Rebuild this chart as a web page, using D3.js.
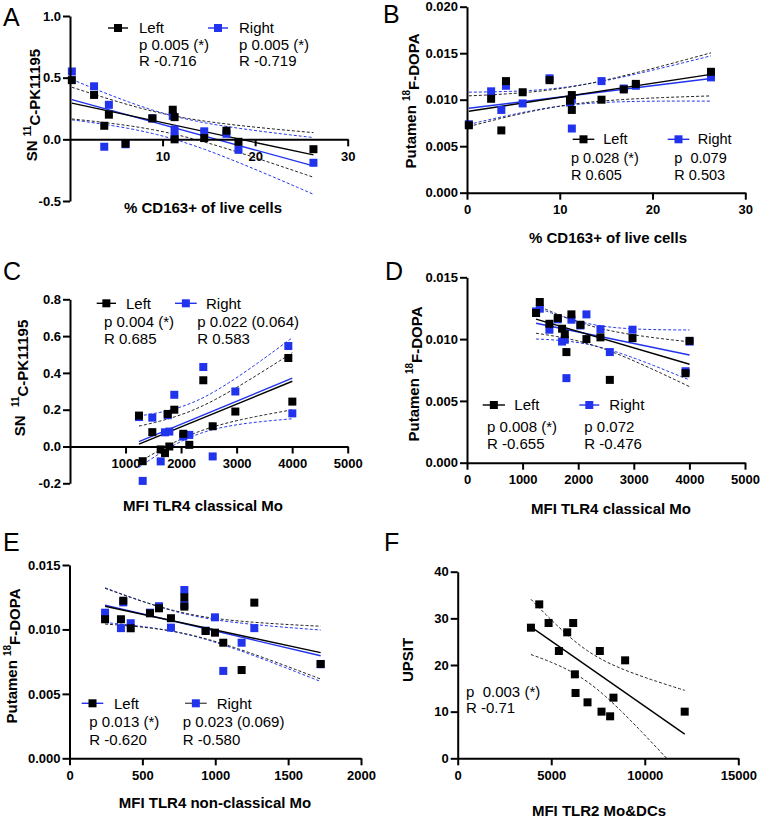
<!DOCTYPE html>
<html><head><meta charset="utf-8">
<script src="https://cdn.jsdelivr.net/npm/d3@7"></script>
<style>body{margin:0;background:#fff} text{font-family:"Liberation Sans",Arial,sans-serif}</style>
</head><body><svg id="c" width="762" height="819"></svg>
<script>
// ---------- DATA ----------
// A/B: % CD163+ of live cells
const cd163 = [0.2, 2.6, 3.7, 4.2, 6.0, 8.9, 11.1, 11.3, 11.3, 14.5, 16.9, 18.2, 26.3];
const A_left  = [0.48, 0.36, 0.11, 0.20, -0.035, 0.17, 0.24, 0.18, 0.0, 0.01, 0.07, -0.02, -0.08];
const A_right = [0.55, 0.43, -0.06, 0.28, -0.04, 0.17, 0.19, 0.08, 0.02, 0.065, 0.045, -0.085, -0.19];
const B_left  = [0.00725, 0.0101, 0.0067, 0.0120, 0.0108, 0.0121, 0.0099, 0.0105, 0.0089, 0.0100, 0.0111, 0.0117, 0.0130];
const B_right = [0.00736, 0.0109, 0.0089, 0.0115, 0.0096, 0.0123, 0.0097, 0.0069, 0.0100, 0.0120, 0.0112, 0.0115, 0.0124];
// C/D: MFI TLR4 classical Mo
const tlr4c = [1242, 1309, 1482, 1633, 1710, 1759, 1788, 1878, 2040, 2148, 2400, 2569, 2977, 3931, 4003];
const C_left  = [0.168, -0.080, 0.078, -0.016, -0.036, 0.177, 0.000, 0.200, 0.069, 0.009, 0.360, 0.110, 0.190, 0.481, 0.244];
const C_right = [0.160, -0.187, 0.157, -0.081, 0.077, 0.170, 0.081, 0.281, 0.054, 0.063, 0.432, -0.054, 0.299, 0.546, 0.180];
const D_left  = [0.01211, 0.0130, 0.01124, 0.0117, 0.01084, 0.0104, 0.00895, 0.0120, 0.01116, 0.0100, 0.01014, 0.0067, 0.01008, 0.00724, 0.00986];
const D_right = [0.01224, 0.01246, 0.01076, 0.0116, 0.0098, 0.00995, 0.00684, 0.01157, 0.0111, 0.0120, 0.0108, 0.00895, 0.01076, 0.0074, 0.0098];
// E: MFI TLR4 non-classical Mo
const tlr4nc = [244, 353, 369, 420, 552, 614, 696, 788, 788, 934, 998, 1055, 1181, 1268, 1723];
const E_left  = [0.01079, 0.01079, 0.01223, 0.01009, 0.01125, 0.01164, 0.01087, 0.01249, 0.01177, 0.00988, 0.00975, 0.00897, 0.00685, 0.01208, 0.00732];
const E_right = [0.0113, 0.0101, 0.0121, 0.01048, 0.0113, 0.0118, 0.01014, 0.01306, 0.0119, 0.0099, 0.01094, 0.00678, 0.00897, 0.0101, 0.0073];
// F: MFI TLR2 Mo&DCs vs UPSIT
const tlr2 = [3915, 4359, 4858, 5409, 5854, 6174, 6263, 6299, 6940, 7598, 7687, 8149, 8327, 8950, 12135];
const upsit = [28, 33, 29, 23, 27, 29, 18, 14, 12, 23, 10, 9, 13, 21, 10];

// tick values / labels
const A_xt = [10, 20, 30], A_xtl = ["10", "20", "30"];
const A_yt = [-0.5, 0, 0.5, 1.0], A_ytl = ["-0.5", "0.0", "0.5", "1.0"];
const B_xt = [0, 10, 20, 30], B_xtl = ["0", "10", "20", "30"];
const B_yt = [0, 0.005, 0.010, 0.015, 0.020], B_ytl = ["0.000", "0.005", "0.010", "0.015", "0.020"];
const C_xt = [1000, 2000, 3000, 4000, 5000], C_xtl = ["1000", "2000", "3000", "4000", "5000"];
const C_yt = [-0.2, 0, 0.2, 0.4, 0.6, 0.8], C_ytl = ["-0.2", "0.0", "0.2", "0.4", "0.6", "0.8"];
const D_xt = [0, 1000, 2000, 3000, 4000, 5000], D_xtl = ["0", "1000", "2000", "3000", "4000", "5000"];
const D_yt = [0, 0.005, 0.010, 0.015], D_ytl = ["0.000", "0.005", "0.010", "0.015"];
const E_xt = [0, 500, 1000, 1500, 2000], E_xtl = ["0", "500", "1000", "1500", "2000"];
const E_yt = [0, 0.005, 0.010, 0.015], E_ytl = ["0.000", "0.005", "0.010", "0.015"];
const F_xt = [0, 5000, 10000, 15000], F_xtl = ["0", "5000", "10000", "15000"];
const F_yt = [0, 10, 20, 30, 40], F_ytl = ["0", "10", "20", "30", "40"];

// ---------- DRAW ----------
const FONT = '"Liberation Sans", Arial, sans-serif';
const BLUE = '#2233ee';
const BLACK = '#000';
const tcrit = {11: 2.201, 12: 2.179, 13: 2.160};
const svg = d3.select('#c');
svg.append('rect').attr('width', 762).attr('height', 819).attr('fill', '#fff');

function linfit(xs, ys) {
  const n = xs.length, mx = d3.mean(xs), my = d3.mean(ys);
  let sxx = 0, sxy = 0;
  xs.forEach((x, i) => { sxx += (x - mx) ** 2; sxy += (x - mx) * (ys[i] - my); });
  const b = sxy / sxx, a = my - b * mx;
  const sse = d3.sum(xs, (x, i) => (ys[i] - a - b * x) ** 2);
  return {n, mx, sxx, a, b, s: Math.sqrt(sse / (n - 2)), t: tcrit[n - 2] || 2.16, lo: d3.min(xs), hi: d3.max(xs)};
}

function txt(g, x, y, t, opts = {}) {
  return g.append('text').attr('x', x).attr('y', y).attr('dy', '0.35em')
    .attr('font-family', FONT).attr('font-size', opts.size || 15)
    .attr('font-weight', opts.weight || 'normal')
    .attr('text-anchor', opts.anchor || 'start')
    .style('white-space', 'pre').attr('fill', '#000').text(t);
}

function panel(p) {
  const g = svg.append('g');
  const x = d3.scaleLinear().domain(p.xd).range(p.xr);
  const y = d3.scaleLinear().domain(p.yd).range(p.yr);
  const cid = 'clip' + p.id;
  g.append('clipPath').attr('id', cid).append('rect')
    .attr('x', p.xr[0]).attr('y', p.yr[1]).attr('width', p.xr[1] - p.xr[0]).attr('height', p.yr[0] - p.yr[1]);
  const lg = g.append('g').attr('clip-path', `url(#${cid})`);
  const line = d3.line().x(d => x(d[0])).y(d => y(d[1]));
  p.series.forEach(s => {
    const f = linfit(s.x, s.y);
    const xsS = d3.range(61).map(i => f.lo + (f.hi - f.lo) * i / 60);
    const ci = v => f.t * f.s * Math.sqrt(1 / f.n + (v - f.mx) ** 2 / f.sxx);
    [1, -1].forEach(sg => {
      lg.append('path').attr('d', line(xsS.map(v => [v, f.a + f.b * v + sg * ci(v)])))
        .attr('fill', 'none').attr('stroke', s.band).attr('stroke-width', 1).attr('stroke-dasharray', '3,2');
    });
    lg.append('path').attr('d', line([[f.lo, f.a + f.b * f.lo], [f.hi, f.a + f.b * f.hi]]))
      .attr('fill', 'none').attr('stroke', s.color).attr('stroke-width', 1.4);
  });
  p.series.forEach(s => {
    g.append('g').selectAll('rect').data(s.x.map((v, i) => [v, s.y[i]])).join('rect')
      .attr('x', d => x(d[0]) - 4).attr('y', d => y(d[1]) - 4)
      .attr('width', 8).attr('height', 8).attr('fill', s.color);
  });
  // axes
  const ya = d3.axisLeft(y).tickValues(p.yt).tickFormat((d, i) => p.ytl[i]).tickSize(7).tickPadding(2).tickSizeOuter(0);
  const yg = g.append('g').attr('transform', `translate(${p.xr[0]},0)`).call(ya);
  const xa = d3.axisBottom(x).tickValues(p.xt).tickFormat((d, i) => p.xtl[i]).tickSize(7).tickPadding(5).tickSizeOuter(0);
  const xg = g.append('g').attr('transform', `translate(0,${y(p.xAt)})`).call(xa);
  [yg, xg].forEach(a => {
    a.attr('font-family', FONT).attr('font-size', 13).attr('font-weight', 'bold');
    a.select('.domain').attr('stroke', '#000').attr('stroke-width', 2);
    a.selectAll('.tick line').attr('stroke', '#000').attr('stroke-width', 2);
    a.selectAll('.tick text').attr('fill', '#000');
  });
  // legend
  (p.legend || []).forEach(l => {
    g.append('line').attr('x1', l.x1).attr('x2', l.x2).attr('y1', l.y).attr('y2', l.y)
      .attr('stroke', l.lc).attr('stroke-width', 1.4);
    g.append('rect').attr('x', (l.x1 + l.x2) / 2 - 4).attr('y', l.y - 4).attr('width', 8).attr('height', 8).attr('fill', l.mc);
    txt(g, l.lx, l.y, l.label, {size: p.fs || 15});
  });
  (p.texts || []).forEach(t => txt(g, t.x, t.y, t.t, {size: p.fs || 15}));
  // titles
  txt(g, p.xTitle[0], p.xTitle[1], p.xTitle[2], {size: 15, weight: 'bold', anchor: 'middle'});
  const yt = g.append('text').attr('transform', `translate(${p.yTitle[0]},${p.yTitle[1]}) rotate(-90)`)
    .attr('dy', '0.35em').attr('text-anchor', 'middle').attr('font-family', FONT)
    .attr('font-size', 15).attr('font-weight', 'bold').style('white-space', 'pre');
  yt.append('tspan').text(p.yTitle[2]);
  if (p.yTitle[3]) {
    yt.append('tspan').attr('font-size', 10).attr('dy', '-0.6em').text(p.yTitle[3]);
    yt.append('tspan').attr('dy', '0.6em').text(p.yTitle[4]);
  }
  txt(g, p.label[0], p.label[1], p.label[2], {size: 25});
}

panel({id: 'A', xd: [0, 30], xr: [70, 347.7], yd: [-0.5, 1.0], yr: [201, 16], xAt: 0,
  xt: A_xt, xtl: A_xtl, yt: A_yt, ytl: A_ytl,
  series: [{x: cd163, y: A_right, color: BLUE, band: BLUE}, {x: cd163, y: A_left, color: BLACK, band: '#222'}],
  legend: [{x1: 108, x2: 128, y: 28, lc: BLACK, mc: BLACK, label: 'Left', lx: 139},
           {x1: 208, x2: 228, y: 28, lc: BLUE, mc: BLUE, label: 'Right', lx: 239}],
  texts: [{x: 139, y: 44.5, t: 'p 0.005 (*)'}, {x: 139, y: 61, t: 'R -0.716'},
          {x: 239, y: 44.5, t: 'p 0.005 (*)'}, {x: 239, y: 61, t: 'R -0.719'}],
  xTitle: [203, 207.5, '% CD163+ of live cells'], yTitle: [31.5, 105, 'SN ', '11', 'C-PK11195'],
  label: [3, 17, 'A']});

panel({id: 'B', xd: [0, 30], xr: [467, 745.3], yd: [0, 0.02], yr: [192.7, 6.7], xAt: 0, fs: 14.5,
  xt: B_xt, xtl: B_xtl, yt: B_yt, ytl: B_ytl,
  series: [{x: cd163, y: B_right, color: BLUE, band: BLUE}, {x: cd163, y: B_left, color: BLACK, band: '#222'}],
  legend: [{x1: 572.7, x2: 594.3, y: 139.3, lc: BLACK, mc: BLACK, label: 'Left', lx: 603.3},
           {x1: 667.7, x2: 689.3, y: 139.3, lc: BLUE, mc: BLUE, label: 'Right', lx: 697.7}],
  texts: [{x: 571, y: 158.3, t: 'p 0.028 (*)'}, {x: 571, y: 175, t: 'R 0.605'},
          {x: 674.3, y: 158.3, t: 'p  0.079'}, {x: 674.3, y: 175, t: 'R 0.503'}],
  xTitle: [608, 238, '% CD163+ of live cells'], yTitle: [411, 101, 'Putamen ', '18', 'F-DOPA'],
  label: [383, 14, 'B']});

panel({id: 'C', xd: [0, 5000], xr: [70, 347.7], yd: [-0.2, 0.8], yr: [483.3, 299.3], xAt: 0,
  xt: C_xt, xtl: C_xtl, yt: C_yt, ytl: C_ytl,
  series: [{x: tlr4c, y: C_right, color: BLUE, band: BLUE}, {x: tlr4c, y: C_left, color: BLACK, band: '#222'}],
  legend: [{x1: 96.7, x2: 116, y: 303.3, lc: BLACK, mc: BLACK, label: 'Left', lx: 126},
           {x1: 175, x2: 196.7, y: 303.3, lc: BLUE, mc: BLUE, label: 'Right', lx: 206}],
  texts: [{x: 104, y: 321.7, t: 'p 0.004 (*)'}, {x: 104, y: 338.3, t: 'R 0.685'},
          {x: 197.3, y: 321.7, t: 'p 0.022 (0.064)'}, {x: 197.3, y: 338.3, t: 'R 0.583'}],
  xTitle: [203, 506, 'MFI TLR4 classical Mo'], yTitle: [20, 378, 'SN  ', '11', 'C-PK11195'],
  label: [3, 271, 'C']});

panel({id: 'D', xd: [0, 5000], xr: [467, 745], yd: [0, 0.015], yr: [462.7, 277.3], xAt: 0,
  xt: D_xt, xtl: D_xtl, yt: D_yt, ytl: D_ytl,
  series: [{x: tlr4c, y: D_right, color: BLUE, band: BLUE}, {x: tlr4c, y: D_left, color: BLACK, band: '#222'}],
  legend: [{x1: 482.7, x2: 505, y: 405, lc: BLACK, mc: BLACK, label: 'Left', lx: 514.3},
           {x1: 579.3, x2: 599.3, y: 405, lc: BLUE, mc: BLUE, label: 'Right', lx: 609.3}],
  texts: [{x: 487, y: 426.7, t: 'p 0.008 (*)'}, {x: 487, y: 443.3, t: 'R -0.655'},
          {x: 584.3, y: 426.7, t: 'p 0.072'}, {x: 584.3, y: 443.3, t: 'R -0.476'}],
  xTitle: [611, 509, 'MFI TLR4 classical Mo'], yTitle: [414, 374, 'Putamen ', '18', 'F-DOPA'],
  label: [385, 271, 'D']});

panel({id: 'E', xd: [0, 2000], xr: [69.5, 361], yd: [0, 0.015], yr: [758.3, 565], xAt: 0,
  xt: E_xt, xtl: E_xtl, yt: E_yt, ytl: E_ytl,
  series: [{x: tlr4nc, y: E_right, color: BLUE, band: BLUE}, {x: tlr4nc, y: E_left, color: BLACK, band: '#222'}],
  legend: [{x1: 81.7, x2: 103.3, y: 703.3, lc: BLUE, mc: BLACK, label: 'Left', lx: 114},
           {x1: 185, x2: 206.7, y: 703.3, lc: '#555', mc: BLUE, label: 'Right', lx: 216.7}],
  texts: [{x: 89.3, y: 721.7, t: 'p 0.013 (*)'}, {x: 89.3, y: 739.3, t: 'R -0.620'},
          {x: 182.7, y: 721.7, t: 'p 0.023 (0.069)'}, {x: 182.7, y: 739.3, t: 'R -0.580'}],
  xTitle: [215, 803, 'MFI TLR4 non-classical Mo'], yTitle: [11.7, 656, 'Putamen ', '18', 'F-DOPA'],
  label: [3, 542, 'E']});

panel({id: 'F', xd: [0, 15000], xr: [457.7, 738.3], yd: [0, 40], yr: [758.3, 571.7], xAt: 0,
  xt: F_xt, xtl: F_xtl, yt: F_yt, ytl: F_ytl,
  series: [{x: tlr2, y: upsit, color: BLACK, band: '#222'}],
  legend: [],
  texts: [{x: 466, y: 691.7, t: 'p  0.003 (*)'}, {x: 466, y: 707.7, t: 'R -0.71'}],
  xTitle: [599, 810.5, 'MFI TLR2 Mo&DCs'], yTitle: [407.7, 660, 'UPSIT'],
  label: [384, 542, 'F']});
</script></body></html>
